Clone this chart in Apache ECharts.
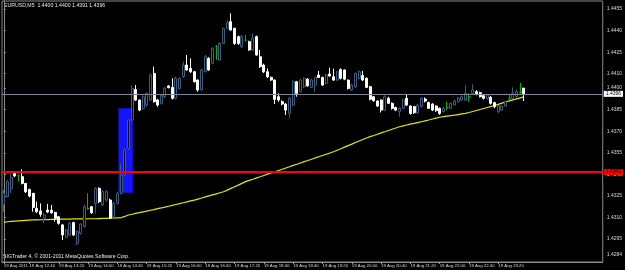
<!DOCTYPE html>
<html><head><meta charset="utf-8">
<script src="https://cdn.jsdelivr.net/npm/echarts@6/dist/echarts.min.js"></script>
<style>html,body{margin:0;padding:0;background:#000;}#c{width:625px;height:270px;}</style>
</head><body><div id="c"></div>
<script>
const opens = [1.43187,1.43244,1.43300,1.43407,1.43390,1.43384,1.43337,1.43295,1.43268,1.43163,
1.43145,1.43094,1.43152,1.43150,1.43135,1.43105,1.43048,1.42962,1.42978,1.43064,
1.42920,1.42989,1.43036,1.43163,1.43175,1.43198,1.43302,1.43187,1.43221,1.43221,
1.43105,1.43198,1.43268,1.43395,1.43581,1.43778,1.43990,1.43917,1.43859,1.43882,
1.43917,1.44102,1.43917,1.43894,1.43940,1.44015,1.44005,1.43929,1.43998,1.44079,
1.44160,1.44137,1.44114,1.44056,1.43987,1.44114,1.44207,1.44172,1.44288,1.44195,
1.44311,1.44416,1.44462,1.44416,1.44358,1.44288,1.44334,1.44323,1.44265,1.44358,
1.44218,1.44160,1.44114,1.44075,1.44056,1.43940,1.43905,1.43889,1.43824,1.43882,
1.44044,1.43975,1.44010,1.44062,1.44005,1.44021,1.44091,1.44074,1.44033,1.44098,
1.44079,1.44056,1.44130,1.44126,1.44056,1.43987,1.44009,1.44068,1.44088,1.44068,
1.44010,1.43940,1.43910,1.43917,1.43847,1.43929,1.43894,1.43865,1.43836,1.43859,
1.43929,1.43875,1.43871,1.43829,1.43871,1.43924,1.43900,1.43889,1.43875,1.43859,
1.43836,1.43865,1.43859,1.43882,1.43905,1.43917,1.43917,1.43940,1.43963,1.43975,
1.43968,1.43947,1.43926,1.43936,1.43899,1.43836,1.43847,1.43875,1.43929,1.43929,
1.43940,1.43971,1.44000];
const highs = [1.43291,1.43360,1.43407,1.43415,1.43400,1.43435,1.43340,1.43300,1.43270,1.43210,
1.43198,1.43129,1.43193,1.43187,1.43140,1.43110,1.43055,1.43020,1.43070,1.43070,
1.43010,1.43060,1.43190,1.43268,1.43180,1.43310,1.43310,1.43290,1.43290,1.43230,
1.43210,1.43280,1.43476,1.43580,1.43785,1.44020,1.44021,1.43920,1.43950,1.43970,
1.44100,1.44149,1.43925,1.43960,1.44010,1.44021,1.44068,1.44080,1.44075,1.44184,
1.44230,1.44207,1.44120,1.44060,1.44135,1.44230,1.44215,1.44285,1.44300,1.44320,
1.44420,1.44473,1.44520,1.44420,1.44365,1.44370,1.44370,1.44330,1.44381,1.44365,
1.44265,1.44170,1.44137,1.44080,1.44060,1.43963,1.43915,1.43895,1.43940,1.44055,
1.44050,1.44065,1.44075,1.44070,1.44065,1.44080,1.44119,1.44080,1.44100,1.44142,
1.44135,1.44120,1.44137,1.44130,1.44060,1.44030,1.44110,1.44125,1.44120,1.44075,
1.44015,1.43945,1.43915,1.43920,1.43950,1.43940,1.43900,1.43870,1.43865,1.43925,
1.43956,1.43880,1.43875,1.43890,1.43935,1.43935,1.43905,1.43895,1.43880,1.43865,
1.43870,1.43905,1.43900,1.43920,1.43940,1.43950,1.44021,1.43963,1.44026,1.43985,
1.43975,1.43955,1.43960,1.43945,1.43905,1.43880,1.43880,1.43915,1.43952,1.44005,
1.43990,1.44037,1.44000];
const lows = [1.43140,1.43240,1.43270,1.43380,1.43350,1.43330,1.43270,1.43240,1.43140,1.43130,
1.43105,1.43059,1.43130,1.43125,1.43071,1.43050,1.42943,1.42955,1.42970,1.42970,
1.42908,1.42980,1.43030,1.43152,1.43125,1.43129,1.43200,1.43180,1.43210,1.43090,
1.43095,1.43190,1.43260,1.43390,1.43570,1.43770,1.43910,1.43840,1.43850,1.43870,
1.43910,1.43900,1.43870,1.43885,1.43930,1.43998,1.43920,1.43920,1.43990,1.44070,
1.44120,1.44105,1.44040,1.43975,1.43980,1.44110,1.44120,1.44165,1.44195,1.44190,
1.44305,1.44410,1.44400,1.44300,1.44300,1.44280,1.44323,1.44260,1.44260,1.44225,
1.44140,1.44105,1.44070,1.44050,1.43889,1.43905,1.43880,1.43813,1.43789,1.43875,
1.43940,1.43970,1.44000,1.44010,1.44000,1.43975,1.44070,1.44015,1.44025,1.44080,
1.44050,1.44050,1.44060,1.44055,1.43990,1.43980,1.44000,1.44060,1.44050,1.44000,
1.43915,1.43905,1.43870,1.43830,1.43840,1.43890,1.43850,1.43840,1.43801,1.43855,
1.43875,1.43815,1.43820,1.43820,1.43865,1.43900,1.43855,1.43840,1.43835,1.43815,
1.43830,1.43847,1.43855,1.43880,1.43900,1.43910,1.43910,1.43905,1.43955,1.43950,
1.43935,1.43920,1.43920,1.43885,1.43860,1.43824,1.43840,1.43870,1.43917,1.43925,
1.43935,1.43960,1.43910];
const closes = [1.43268,1.43349,1.43380,1.43389,1.43390,1.43337,1.43279,1.43249,1.43170,1.43140,
1.43122,1.43117,1.43138,1.43133,1.43094,1.43059,1.42978,1.43013,1.43059,1.42978,
1.43001,1.43054,1.43175,1.43163,1.43133,1.43302,1.43210,1.43279,1.43279,1.43094,
1.43198,1.43268,1.43395,1.43569,1.43778,1.43998,1.43917,1.43847,1.43940,1.43963,
1.44091,1.43905,1.43882,1.43952,1.43998,1.44003,1.43929,1.44068,1.44068,1.44160,
1.44126,1.44114,1.44044,1.43987,1.44126,1.44218,1.44126,1.44276,1.44288,1.44311,
1.44416,1.44455,1.44404,1.44311,1.44311,1.44358,1.44334,1.44265,1.44346,1.44230,
1.44149,1.44114,1.44079,1.44056,1.43922,1.43917,1.43889,1.43847,1.43929,1.44044,
1.43963,1.44056,1.44068,1.44016,1.44056,1.44074,1.44074,1.44021,1.44091,1.44084,
1.44056,1.44114,1.44068,1.44062,1.43998,1.44021,1.44102,1.44114,1.44056,1.44005,
1.43922,1.43912,1.43875,1.43847,1.43940,1.43894,1.43859,1.43847,1.43859,1.43917,
1.43882,1.43824,1.43829,1.43882,1.43929,1.43910,1.43859,1.43847,1.43843,1.43824,
1.43859,1.43865,1.43894,1.43910,1.43929,1.43940,1.43963,1.43940,1.43987,1.43959,
1.43940,1.43929,1.43952,1.43894,1.43871,1.43875,1.43875,1.43905,1.43929,1.43963,
1.43975,1.43971,1.43960];
const maValues = [1.43066,1.43070,1.43072,1.43074,1.43076,1.43078,1.43080,1.43082,
1.43083,1.43083,1.43084,1.43084,1.43085,1.43086,1.43087,1.43088,1.43089,
1.43089,1.43089,1.43090,1.43090,1.43090,1.43090,1.43091,1.43091,1.43091,
1.43092,1.43093,1.43094,1.43095,1.43096,1.43097,1.43098,
1.43107,1.43117,
1.43122,1.43128,1.43133,1.43139,1.43144,1.43150,1.43155,1.43161,1.43166,
1.43172,1.43178,1.43184,1.43190,1.43196,1.43202,1.43208,1.43215,1.43221,
1.43228,1.43235,1.43243,1.43250,1.43257,1.43264,1.43272,1.43279,
1.43290,1.43302,1.43314,1.43325,1.43337,1.43349,
1.43358,1.43366,1.43375,1.43383,1.43392,1.43401,1.43409,1.43418,
1.43427,1.43435,1.43444,1.43453,1.43462,1.43470,1.43479,
1.43488,1.43496,1.43505,1.43514,1.43522,1.43531,1.43540,1.43548,1.43557,
1.43568,1.43578,1.43589,1.43600,1.43610,1.43621,1.43632,1.43642,1.43653,
1.43662,1.43670,1.43679,1.43688,1.43696,1.43705,1.43714,1.43722,1.43731,
1.43737,1.43743,1.43749,1.43754,1.43760,1.43766,
1.43772,1.43778,1.43785,1.43791,1.43797,
1.43801,1.43805,1.43809,1.43812,1.43816,1.43820,1.43824,
1.43830,1.43837,1.43844,1.43851,1.43858,1.43865,1.43872,1.43879,
1.43887,1.43895,1.43903,1.43911,
1.43918,1.43925,1.43932,1.43940];
const tickBars = [0,7,15,23,31,39,47,55,63,71,79,87,95,103,111,119,127,135];
const tickLabels = ['19 Aug 2011','19 Aug 12:40','19 Aug 13:20','19 Aug 14:00','19 Aug 14:40','19 Aug 15:20',
'19 Aug 16:00','19 Aug 16:40','19 Aug 17:20','19 Aug 18:00','19 Aug 18:40','19 Aug 19:20','19 Aug 20:00',
'19 Aug 20:40','19 Aug 21:20','19 Aug 22:00','19 Aug 22:40','19 Aug 23:20'];
const priceLabels = [1.4455,1.4440,1.4425,1.4410,1.4400,1.4385,1.4370,1.4355,1.4340,1.4325,1.4310,1.4295,1.4284];
const bidPrice = 1.4396;
const levelPrice = 1.43416;
const rectBars = [31.3, 35.2];
const rectPrices = [1.43859, 1.43272];
const titleText = 'EURUSD,M5  1.4400 1.4400 1.4391 1.4396';
const footerText = 'SIGTrader 4, \u00a9 2001-2011 MetaQuotes Software Corp.';
const totalSlots = 164;
const priceMin = 1.42790, priceMax = 1.44606;

const cats = [];
for (let i = 0; i < totalSlots; i++) cats.push(String(i));
const candleData = opens.map((o, i) => [o, closes[i], lows[i], highs[i]]);
const FONT = '"Liberation Sans Narrow", "Liberation Sans", sans-serif';
const isTick = (idx) => tickBars.indexOf(idx) >= 0;

const chart = echarts.init(document.getElementById('c'), null, {renderer: 'canvas'});
chart.setOption({
  animation: false,
  backgroundColor: '#000000',
  grid: {left: 2, top: 1, width: 605, height: 261, show: true, borderColor: '#8a8a8a', borderWidth: 1, backgroundColor: 'transparent'},
  xAxis: [{
    type: 'category', data: cats, boundaryGap: true, position: 'bottom',
    axisLine: {show: true, lineStyle: {color: '#8a8a8a', width: 1}},
    axisTick: {show: true, interval: (idx) => isTick(idx), alignWithLabel: true, length: 2, lineStyle: {color: '#9a9a9a'}},
    axisLabel: {show: true, interval: (idx) => isTick(idx), formatter: (v, idx) => tickLabels[tickBars.indexOf(Number(v))] || '',
      align: 'left', margin: 2, fontSize: 4.3, fontFamily: FONT, color: '#d8d8d8', hideOverlap: false, showMinLabel: true},
    splitLine: {show: false}
  }, {
    type: 'value', min: -0.5, max: totalSlots - 0.5, show: false
  }],
  yAxis: [{
    type: 'value', position: 'right', min: priceMin, max: priceMax, scale: true,
    axisLine: {show: true, lineStyle: {color: '#8a8a8a'}},
    axisTick: {show: true, customValues: priceLabels, length: 2, lineStyle: {color: '#9a9a9a'}},
    axisLabel: {show: true, customValues: priceLabels, formatter: (v) => v.toFixed(4), margin: 4, fontSize: 5, fontFamily: FONT, color: '#d8d8d8'},
    splitLine: {show: false}
  }],
  series: [{
    type: 'line', xAxisIndex: 1, yAxisIndex: 0, data: [], z: 1, silent: true,
    markArea: {silent: true, itemStyle: {color: '#1414ff', opacity: 1},
      data: [[{coord: [rectBars[0], rectPrices[0]]}, {coord: [rectBars[1], rectPrices[1]]}]]}
  }, {
    type: 'line', xAxisIndex: 0, yAxisIndex: 0, data: maValues, z: 2, symbol: 'none', silent: true,
    lineStyle: {color: '#e6e600', width: 1.2}
  }, {
    type: 'candlestick', xAxisIndex: 0, yAxisIndex: 0, data: candleData, z: 3, barWidth: 2.5,
    itemStyle: {color: '#000000', color0: '#ffffff', borderColor: '#3d5c7e', borderColor0: '#ffffff', borderColorDoji: '#00b400', borderWidth: 1}
  }, {
    type: 'line', xAxisIndex: 1, yAxisIndex: 0, data: [], z: 4, silent: true,
    markLine: {silent: true, symbol: 'none', animation: false, precision: 6,
      data: [
        {yAxis: bidPrice, lineStyle: {color: '#778899', width: 1, type: 'solid'},
         label: {show: true, position: 'end', distance: 1, formatter: bidPrice.toFixed(4), backgroundColor: '#ffffff', color: '#000000', fontSize: 5, fontFamily: FONT, padding: [1, 2, 0, 2]}},
        {yAxis: levelPrice, lineStyle: {color: '#ff0000', width: 2, type: 'solid'},
         label: {show: true, position: 'end', distance: 1, formatter: levelPrice.toFixed(4), backgroundColor: '#ff0000', color: '#000000', fontSize: 5, fontFamily: FONT, padding: [1, 2, 0, 2]}}
      ]}
  }],
  graphic: [
    {type: 'text', left: 4, top: 3, style: {text: titleText, fill: '#e8e8e8', font: '5.2px "Liberation Sans Narrow", "Liberation Sans"'}},
    {type: 'text', left: 3, top: 254, style: {text: footerText, fill: '#e8e8e8', font: '5.2px "Liberation Sans Narrow", "Liberation Sans"'}}
  ]
});
</script></body></html>
